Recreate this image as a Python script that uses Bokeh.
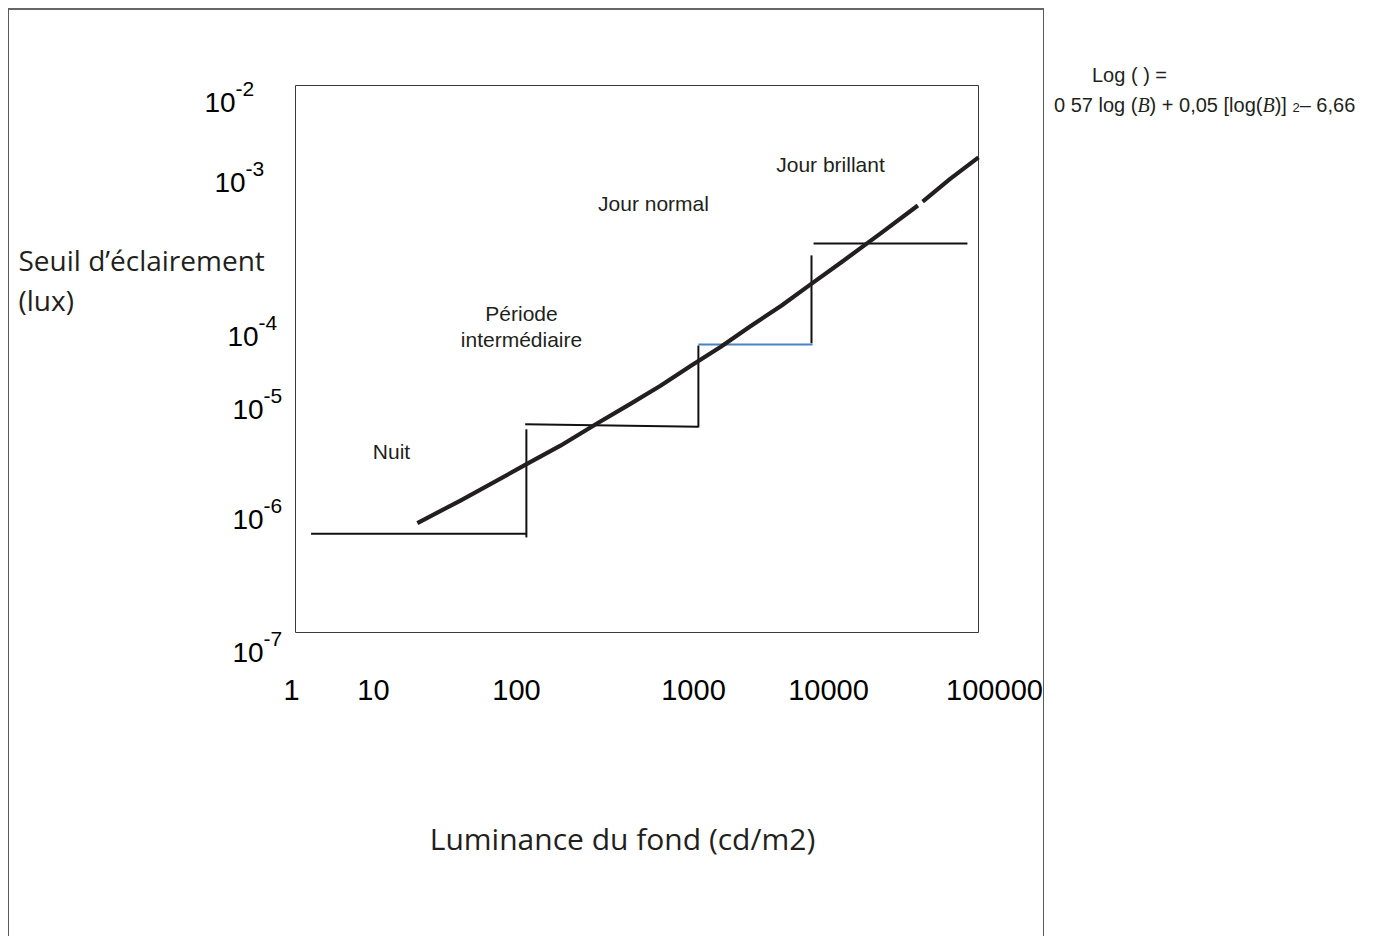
from bokeh.plotting import figure
from bokeh.models import Div, Range1d
from bokeh.layouts import row
from bokeh.embed import file_html
from bokeh.resources import INLINE
from bokeh.core.properties import value

nan = float("nan")

# ---------------- data ----------------
# axis extents of the log-log diagram
x_extent = [1, 1e5]          # luminance B (cd/m2)
y_extent = [1e-7, 1e-2]      # illuminance threshold E (lux)

# threshold curve: background luminance B (cd/m2) -> illuminance threshold E (lux)
curve_B = [7.8, 16, 48, 87, 160, 283, 470, 780, 1300, 2140, 3600, 5900, 9800, 19000, 36000,
           nan, 39000, 62000, 100000]
curve_E = [1.0e-6, 1.6e-6, 3.4e-6, 5.1e-6, 8.1e-6, 1.23e-5, 1.8e-5, 2.73e-5, 4.1e-5, 6.3e-5,
           9.7e-5, 1.52e-4, 2.4e-4, 4.4e-4, 8.0e-4, nan, 8.7e-4, 1.4e-3, 2.2e-3]

# regime steps (black segments)
step_B = [[1.3, 49], [49, 49], [48, 890], [890, 890], [5990, 5990], [6200, 83000]]
step_E = [[8.0e-7, 8.0e-7], [7.4e-7, 7.2e-6], [8.0e-6, 7.6e-6], [7.5e-6, 4.2e-5], [4.4e-5, 2.8e-4], [3.6e-4, 3.6e-4]]
# blue step
blue_B = [890, 6100]
blue_E = [4.3e-5, 4.3e-5]

regime_labels = ["Nuit", "Période", "intermédiaire", "Jour normal", "Jour brillant"]
x_tick_labels = ["1", "10", "100", "1000", "10000", "100000"]
y_tick_base = "10"
y_tick_exponents = ["-2", "-3", "-4", "-5", "-6", "-7"]
x_title = "Luminance du fond (cd/m2)"
y_title = ["Seuil d\u2019éclairement", "(lux)"]

# ---------------- layout ----------------
FX0, FX1, FY0, FY1 = 295, 978, 85, 632   # diagram box on the page (px)
W, H = 1036, 928
CX0, CY0 = 9, 10                          # canvas top-left on the page (px)


def bx(px):
    return 10 ** (5 * (px - FX0) / (FX1 - FX0))


def ey(py):
    return 10 ** (-2 - 5 * (py - FY0) / (FY1 - FY0))


p = figure(width=W, height=H, x_axis_type="log", y_axis_type="log",
           x_range=Range1d(bx(CX0), bx(CX0 + W)), y_range=Range1d(ey(CY0 + H), ey(CY0)),
           x_axis_location=None, y_axis_location=None,
           output_backend="svg", toolbar_location=None)
p.min_border_left = 0
p.min_border_right = 0
p.min_border_top = 0
p.min_border_bottom = 0
p.xgrid.visible = False
p.ygrid.visible = False
p.outline_line_color = None
p.background_fill_color = "white"
p.border_fill_color = "white"
p.styles = {"border-top": "2px solid #666666", "border-left": "1px solid #5a5a5a",
            "border-right": "1px solid #5a5a5a"}

# diagram box
p.quad(left=[x_extent[0]], right=[x_extent[1]], bottom=[y_extent[0]], top=[y_extent[1]],
       fill_color=None, line_color="#3a3a3a", line_width=1)

# marks
p.multi_line(xs=step_B, ys=step_E, line_color="#111111", line_width=2)
p.line(blue_B, blue_E, line_color="#4a82c4", line_width=2)
p.line(curve_B, curve_E, line_color="#231f20", line_width=4.2, line_cap="butt", line_join="round")


def txt(xpx, ypx, texts, font, size, align, color):
    p.text(x=[bx(v) for v in xpx], y=[ey(v) for v in ypx], text=texts,
           text_font=value(font), text_font_size=size, text_color=color,
           text_align=align, text_baseline="alphabetic")


# regime labels
txt([391, 521, 521, 653, 830], [451, 313, 339, 203, 164], regime_labels,
    "Liberation Sans", "21px", "center", "#231f20")

# x tick labels
txt([291, 373, 516, 693, 828, 994], [689] * 6, x_tick_labels,
    "Liberation Sans", "29px", "center", "#000000")

# y tick labels: 10 with superscript exponent
y_left = [204, 214, 227, 232, 232, 232]
y_base = [102, 182, 336, 409, 519, 652]
txt(y_left, y_base, [y_tick_base] * 6, "Liberation Sans", "28px", "left", "#000000")
txt([v + 31 for v in y_left], [v - 14 for v in y_base], y_tick_exponents,
    "Liberation Sans", "21px", "left", "#000000")

# titles
txt([18, 18], [259, 299], y_title, "Open Sans", "28px", "left", "#231f20")
txt([622], [838], [x_title], "Open Sans", "30px", "center", "#231f20")

ital = "font-family:'Liberation Serif',serif;font-style:italic;"
formula_html = (
    "<div style=\"font-family:'Liberation Sans',Arial,sans-serif;font-size:20px;"
    "line-height:30px;color:#231f20;white-space:nowrap;padding:52px 0 0 10px;\">"
    "<div style=\"padding-left:38px;\">Log ( ) =</div>"
    "<div>0 57 log (<span style=\"" + ital + "\">B</span>) + 0,05 [log(<span style=\"" + ital +
    "\">B</span>)] <span style=\"font-size:13px;\">2</span>\u2013 6,66</div></div>"
)
div = Div(text=formula_html, width=320, height=200, margin=0)

layout = row(p, div, spacing=0, margin=(8, 0, 0, 8))
open("out.html", "w").write(file_html(layout, INLINE))
